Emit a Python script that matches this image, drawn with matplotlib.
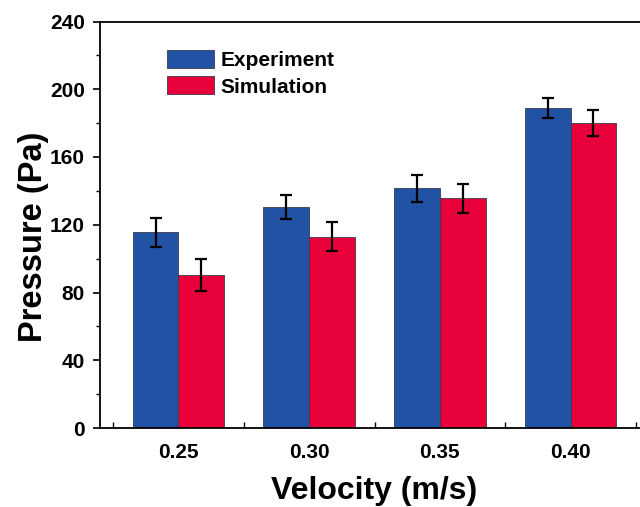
import matplotlib

matplotlib.use("Agg")
import matplotlib.pyplot as plt
from matplotlib.ticker import FixedLocator, MultipleLocator
import numpy as np

# measured pressure vs. simulated pressure at four inlet velocities
VELOCITIES = ["0.25", "0.30", "0.35", "0.40"]
EXPERIMENT = [115.5, 130.5, 141.5, 189.0]
EXPERIMENT_ERR = [8.5, 7.0, 8.0, 6.0]
SIMULATION = [90.5, 113.0, 135.5, 180.0]
SIMULATION_ERR = [9.5, 8.5, 8.5, 7.5]

BLUE = "#2152a3"
RED = "#e8003b"
WIDTH = 0.35

plt.rcParams["font.family"] = ["Liberation Sans", "DejaVu Sans"]
plt.rcParams["font.weight"] = "bold"

fig = plt.figure(figsize=(6.4, 5.07), dpi=100)
ax = fig.add_axes([100 / 640, 79 / 507, 549 / 640, 406.5 / 507])

x = np.arange(len(VELOCITIES))
err_style = dict(ecolor="black", elinewidth=1.6, capsize=4.2, capthick=1.6)
ax.bar(x - WIDTH / 2, EXPERIMENT, WIDTH, yerr=EXPERIMENT_ERR, color=BLUE,
       edgecolor="#3a3a4a", linewidth=0.6, label="Experiment", error_kw=err_style, zorder=2)
ax.bar(x + WIDTH / 2, SIMULATION, WIDTH, yerr=SIMULATION_ERR, color=RED,
       edgecolor="#3a3a4a", linewidth=0.6, label="Simulation", error_kw=err_style, zorder=2)

ax.set_xlim(-0.6, len(VELOCITIES) - 0.4)
ax.set_ylim(0, 240)
ax.set_xticks(x)
ax.set_xticklabels(VELOCITIES)
ax.xaxis.set_minor_locator(FixedLocator(np.arange(-0.5, len(VELOCITIES), 1.0)))
ax.yaxis.set_major_locator(MultipleLocator(40))
ax.yaxis.set_minor_locator(MultipleLocator(20))

for side in ax.spines.values():
    side.set_linewidth(1.3)
ax.tick_params(axis="y", which="major", direction="out", length=5, width=1.2,
               labelsize=15, pad=6)
ax.tick_params(axis="y", which="minor", direction="out", length=3, width=1.0)
ax.tick_params(axis="x", which="major", direction="in", length=4, width=1.2,
               labelsize=15, pad=11)
ax.tick_params(axis="x", which="minor", direction="in", length=4, width=1.0)

ax.set_xlabel("Velocity (m/s)", fontsize=23, fontweight="bold", labelpad=10)
ax.set_ylabel("Pressure (Pa)", fontsize=23.5, fontweight="bold")
ax.yaxis.set_label_coords(-0.093, 0.47)

ax.legend(loc="upper left", bbox_to_anchor=(167 / 640, 1 - 50 / 507),
          bbox_transform=fig.transFigure, frameon=False, fontsize=15,
          handlelength=2.25, handleheight=0.95, handletextpad=0.3,
          labelspacing=0.3, borderpad=0, borderaxespad=0)

fig.savefig("out.png", dpi=100)
